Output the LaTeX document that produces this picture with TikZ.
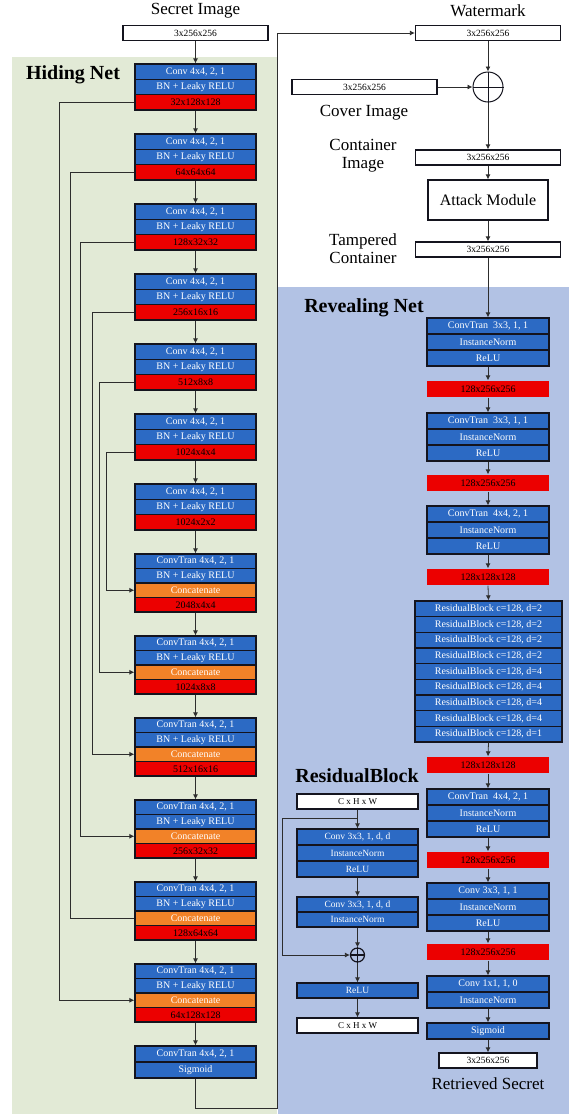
\documentclass[tikz,border=0pt]{standalone}
\usepackage{fontspec}
\setmainfont{Liberation Serif}
\usetikzlibrary{arrows.meta}
\definecolor{bluebox}{RGB}{44,106,196}
\definecolor{redbox}{RGB}{236,0,0}
\definecolor{orangebox}{RGB}{242,130,40}
\definecolor{greenbg}{RGB}{226,234,214}
\definecolor{bluebg}{RGB}{178,194,228}
\definecolor{edgec}{RGB}{20,20,30}
\definecolor{wirec}{RGB}{45,45,45}
\begin{document}
\begin{tikzpicture}[x=1pt,y=-1pt,
  row/.style={rectangle, draw=edgec, line width=1.3pt, fill=bluebox, text=white, inner sep=0pt, minimum width=121pt, font=\fontsize{10}{10}\selectfont},
  redrow/.style={row, fill=redbox, text=black},
  orow/.style={row, fill=orangebox, text=white},
  rrow/.style={row, minimum width=122pt},
  rred/.style={rrow, draw=none, fill=redbox, text=black},
  wbox/.style={rectangle, draw=edgec, line width=1.3pt, fill=white, inner sep=0pt, font=\fontsize{9.5}{9.5}\selectfont, minimum height=15pt},
  lab/.style={font=\fontsize{17}{18}\selectfont, align=center, inner sep=0pt},
  title/.style={font=\fontsize{20}{20}\selectfont\bfseries, inner sep=0pt},
  conn/.style={draw=wirec, line width=0.8pt},
  arr/.style={conn, -{Latex[length=5pt,width=5pt]}},
  plus/.style={circle, draw=edgec, line width=1pt, inner sep=0pt},
]
\useasboundingbox (0,0) rectangle (569,1114);
\fill[greenbg] (12,57) rectangle (277,1114);
\fill[bluebg] (278,287) rectangle (569,1114);

% ---------- Hiding net ----------
\node[lab] (secretlab) at (195.5,11) {Secret Image};
\node[wbox, minimum width=145pt] (secret) at (195.5,33) {3x256x256};
\node[title] (hidlab) at (73,75) {Hiding Net};

\foreach \i/\txt in {1/32x128x128,2/64x64x64,3/128x32x32,4/256x16x16,5/512x8x8,6/1024x4x4,7/1024x2x2}{
  \pgfmathsetmacro\t{64+70*(\i-1)}
  \node[row, minimum height=15.33pt] (ea\i) at (195.5,{\t+7.67}) {Conv 4x4, 2, 1};
  \node[row, minimum height=15.33pt] (eb\i) at (195.5,{\t+23}) {BN + Leaky RELU};
  \node[redrow, minimum height=15.33pt] (ec\i) at (195.5,{\t+38.33}) {\txt};
}
\draw[arr] (secret.south) -- (ea1.north);
\foreach \i [evaluate=\i as \j using int(\i+1)] in {1,...,6}{
  \draw[arr] (ec\i.south) -- (ea\j.north);
}

\foreach \j/\txt in {1/2048x4x4,2/1024x8x8,3/512x16x16,4/256x32x32,5/128x64x64,6/64x128x128}{
  \pgfmathsetmacro\t{554+82*(\j-1)}
  \node[row, minimum height=14.5pt] (da\j) at (195.5,{\t+7.25}) {ConvTran 4x4, 2, 1};
  \node[row, minimum height=14.5pt] (db\j) at (195.5,{\t+21.75}) {BN + Leaky RELU};
  \node[orow, minimum height=14.5pt] (dc\j) at (195.5,{\t+36.25}) {Concatenate};
  \node[redrow, minimum height=14.5pt] (dd\j) at (195.5,{\t+50.75}) {\txt};
}
\draw[arr] (ec7.south) -- (da1.north);
\foreach \i [evaluate=\i as \j using int(\i+1)] in {1,...,5}{
  \draw[arr] (dd\i.south) -- (da\j.north);
}
\node[row, minimum height=16pt] (fa) at (195.5,1054) {ConvTran 4x4, 2, 1};
\node[row, minimum height=16pt] (fb) at (195.5,1070) {Sigmoid};
\draw[arr] (dd6.south) -- (fa.north);

% skip connections
\foreach \i/\x in {1/59,2/70,3/80,4/92,5/99,6/106}{
  \coordinate (sk\i) at (\x,0);
}
\draw[arr] (ec1.west) -- (ec1.west -| sk1) -- (dc6.west -| sk1) -- (dc6.west);
\draw[conn] (ec2.west) -- (ec2.west -| sk2) -- (dc5.west -| sk2) -- (dc5.west);
\draw[arr] (ec3.west) -- (ec3.west -| sk3) -- (dc4.west -| sk3) -- (dc4.west);
\draw[arr] (ec4.west) -- (ec4.west -| sk4) -- (dc3.west -| sk4) -- (dc3.west);
\draw[arr] (ec5.west) -- (ec5.west -| sk5) -- (dc2.west -| sk5) -- (dc2.west);
\draw[arr] (ec6.west) -- (ec6.west -| sk6) -- (dc1.west -| sk6) -- (dc1.west);

% ---------- Right column ----------
\node[lab] (wmlab) at (488,11) {Watermark};
\node[wbox, minimum width=145pt] (wm) at (488,33) {3x256x256};
\coordinate (rb) at (277,1108);
\draw[arr] (fb.south) |- (rb) |- (wm.west);

\node[plus, minimum size=30pt] (add) at (488,87) {};
\draw[draw=edgec, line width=1pt] (add.north) -- (add.south) (add.west) -- (add.east);
\node[wbox, minimum width=145pt] (cover) at (364.5,87) {3x256x256};
\node[lab] (coverlab) at (364,113) {Cover Image};
\draw[arr] (wm.south) -- (add.north);
\draw[arr] (cover.east) -- (add.west);

\node[lab] (contlab) at (363,156) {Container\\Image};
\node[wbox, minimum width=145pt] (cont) at (488,157.5) {3x256x256};
\draw[arr] (add.south) -- (cont.north);
\node[rectangle, draw=edgec, line width=1.3pt, fill=white, minimum width=120pt, minimum height=40pt, inner sep=0pt, font=\fontsize{16}{16}\selectfont] (attack) at (488,200) {Attack Module};
\draw[arr] (cont.south) -- (attack.north);
\node[lab] (tamplab) at (363,249) {Tampered\\Container};
\node[wbox, minimum width=145pt] (tamp) at (488,249.5) {3x256x256};
\draw[arr] (attack.south) -- (tamp.north);

% ---------- Revealing net ----------
\node[title] (revlab) at (364,308) {Revealing Net};
\node[rrow, minimum height=16pt] (r1a) at (488,326) {ConvTran\ \ 3x3, 1, 1};
\node[rrow, minimum height=16pt] (r1b) at (488,342) {InstanceNorm};
\node[rrow, minimum height=16pt] (r1c) at (488,358) {ReLU};
\node[rred, minimum height=16pt] (m1) at (488,389) {128x256x256};
\node[rrow, minimum height=16pt] (r2a) at (488,421) {ConvTran\ \ 3x3, 1, 1};
\node[rrow, minimum height=16pt] (r2b) at (488,437) {InstanceNorm};
\node[rrow, minimum height=16pt] (r2c) at (488,453) {ReLU};
\node[rred, minimum height=16pt] (m2) at (488,483) {128x256x256};
\node[rrow, minimum height=16pt] (r3a) at (488,514) {ConvTran\ \ 4x4, 2, 1};
\node[rrow, minimum height=16pt] (r3b) at (488,530) {InstanceNorm};
\node[rrow, minimum height=16pt] (r3c) at (488,546) {ReLU};
\node[rred, minimum height=16pt] (m3) at (488,577) {128x128x128};
\foreach \k/\d in {1/2,2/2,3/2,4/2,5/4,6/4,7/4,8/4,9/1}{
  \node[row, minimum width=147pt, minimum height=15.67pt] (res\k) at (488.5,{601+15.67*(\k-0.5)}) {ResidualBlock c=128, d=\d};
}
\node[rred, minimum height=16pt] (m4) at (488,765) {128x128x128};
\node[rrow, minimum height=16pt] (r4a) at (488,797) {ConvTran\ \ 4x4, 2, 1};
\node[rrow, minimum height=16pt] (r4b) at (488,813) {InstanceNorm};
\node[rrow, minimum height=16pt] (r4c) at (488,829) {ReLU};
\node[rred, minimum height=16pt] (m5) at (488,860) {128x256x256};
\node[rrow, minimum height=16pt] (r5a) at (488,891) {Conv 3x3, 1, 1};
\node[rrow, minimum height=16pt] (r5b) at (488,907) {InstanceNorm};
\node[rrow, minimum height=16pt] (r5c) at (488,923) {ReLU};
\node[rred, minimum height=16pt] (m6) at (488,952) {128x256x256};
\node[rrow, minimum height=16pt] (r6a) at (488,984) {Conv 1x1, 1, 0};
\node[rrow, minimum height=16pt] (r6b) at (488,1000) {InstanceNorm};
\node[rrow, minimum height=16pt] (sig) at (488,1031) {Sigmoid};
\node[wbox, minimum width=98pt] (out) at (488,1060.5) {3x256x256};
\node[lab] (outlab) at (488,1084) {Retrieved Secret};

\draw[arr] (tamp.south) -- (r1a.north);
\draw[arr] (r1c.south) -- (m1.north);
\draw[arr] (m1.south) -- (r2a.north);
\draw[arr] (r2c.south) -- (m2.north);
\draw[arr] (m2.south) -- (r3a.north);
\draw[arr] (r3c.south) -- (m3.north);
\draw[arr] (m3.south) -- (res1.north);
\draw[arr] (res9.south) -- (m4.north);
\draw[arr] (m4.south) -- (r4a.north);
\draw[arr] (r4c.south) -- (m5.north);
\draw[arr] (m5.south) -- (r5a.north);
\draw[arr] (r5c.south) -- (m6.north);
\draw[arr] (m6.south) -- (r6a.north);
\draw[arr] (r6b.south) -- (sig.north);
\draw[arr] (sig.south) -- (out.north);

% ---------- Residual block ----------
\node[title] (rblab) at (357,776) {ResidualBlock};
\node[wbox, minimum width=121pt, font=\fontsize{9}{9}\selectfont] (rbin) at (357.5,801.5) {C x H x W};
\node[row, minimum height=16pt, font=\fontsize{9.5}{9.5}\selectfont] (rb1a) at (357.5,837) {Conv 3x3, 1, d, d};
\node[row, minimum height=16pt, font=\fontsize{9.5}{9.5}\selectfont] (rb1b) at (357.5,853) {InstanceNorm};
\node[row, minimum height=16pt, font=\fontsize{9.5}{9.5}\selectfont] (rb1c) at (357.5,869) {ReLU};
\node[row, minimum height=15pt, font=\fontsize{9.5}{9.5}\selectfont] (rb2a) at (357.5,904.5) {Conv 3x3, 1, d, d};
\node[row, minimum height=15pt, font=\fontsize{9.5}{9.5}\selectfont] (rb2b) at (357.5,919.5) {InstanceNorm};
\node[plus, minimum size=14pt, line width=1.2pt] (rbadd) at (357.5,955) {};
\draw[draw=edgec, line width=1.2pt] (rbadd.north) -- (rbadd.south) (rbadd.west) -- (rbadd.east);
\node[row, minimum height=15pt, font=\fontsize{9.5}{9.5}\selectfont] (rbrelu) at (357.5,990.5) {ReLU};
\node[wbox, minimum width=121pt, font=\fontsize{9}{9}\selectfont] (rbout) at (357.5,1025.5) {C x H x W};
\coordinate (rbsplit) at (357.5,818);
\coordinate (rbleft) at (282,818);
\draw[conn] (rbin.south) -- (rbsplit);
\draw[arr] (rbsplit) -- (rb1a.north);
\draw[arr] (rbsplit) -- (rbleft) |- (rbadd.west);
\draw[arr] (rb1c.south) -- (rb2a.north);
\draw[arr] (rb2b.south) -- (rbadd.north);
\draw[arr] (rbadd.south) -- (rbrelu.north);
\draw[arr] (rbrelu.south) -- (rbout.north);
\end{tikzpicture}
\end{document}
